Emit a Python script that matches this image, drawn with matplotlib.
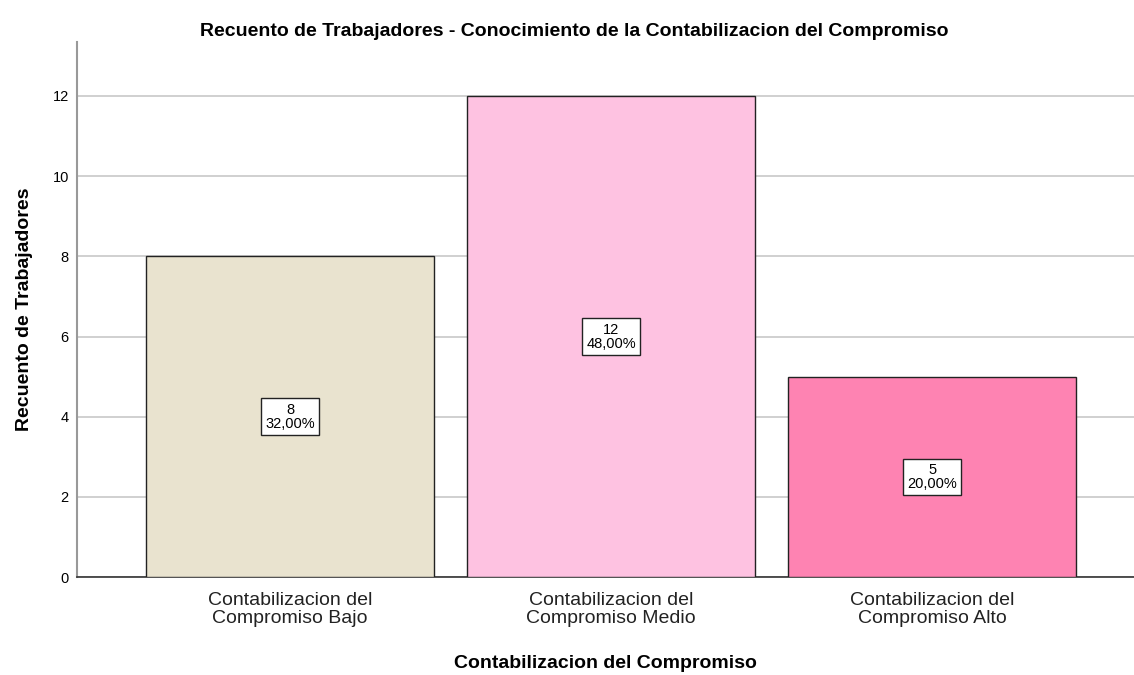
import matplotlib.pyplot as plt

plt.rcParams['font.family'] = ['Liberation Sans', 'DejaVu Sans']

categorias = ['Contabilizacion del\nCompromiso Bajo',
              'Contabilizacion del\nCompromiso Medio',
              'Contabilizacion del\nCompromiso Alto']
recuento = [8, 12, 5]
porcentaje = ['32,00%', '48,00%', '20,00%']
colores = ['#E9E3CF', '#FEC2E1', '#FE83B2']
yticks = [0, 2, 4, 6, 8, 10, 12]

fig = plt.figure(figsize=(11.34, 6.75), dpi=100)
ax = fig.add_axes([0.068, 0.145, 0.932, 0.793])

x = range(len(categorias))
ax.bar(x, recuento, width=0.897, color=colores, edgecolor='#222222', linewidth=1.0, zorder=3)

for i, (v, p) in enumerate(zip(recuento, porcentaje)):
    ax.text(i, v / 2, f'{v}\n{p}', ha='center', va='center', fontsize=10.5, linespacing=1.0,
            zorder=4, bbox=dict(boxstyle='square,pad=0.3', facecolor='white',
                                edgecolor='#222222', linewidth=1.0))

ax.set_xlim(-0.664, 2.629)
ax.set_ylim(0, 13.35)
ax.set_yticks(yticks)
ax.set_xticks(list(x))
ax.set_xticklabels(categorias, fontsize=14, linespacing=1.05, color='#222222')
ax.tick_params(axis='both', length=0)
ax.tick_params(axis='y', labelsize=10.5, pad=6)
ax.tick_params(axis='x', pad=11)
ax.yaxis.grid(True, color='#C8C8C8', linewidth=1.2, zorder=0)
ax.set_axisbelow(True)

for s in ['top', 'right']:
    ax.spines[s].set_visible(False)
ax.spines['left'].set_color('#999999')
ax.spines['left'].set_linewidth(1.5)
ax.spines['bottom'].set_color('#333333')
ax.spines['bottom'].set_linewidth(1.2)

fig.text(0.506, 1 - 31 / 675, 'Recuento de Trabajadores - Conocimiento de la Contabilizacion del Compromiso',
         ha='center', va='center', fontsize=14, fontweight='bold')
ax.set_xlabel('Contabilizacion del Compromiso', fontsize=14, fontweight='bold', labelpad=20)
ax.set_ylabel('Recuento de Trabajadores', fontsize=14, fontweight='bold', labelpad=14)

plt.savefig('out.png', dpi=100)
